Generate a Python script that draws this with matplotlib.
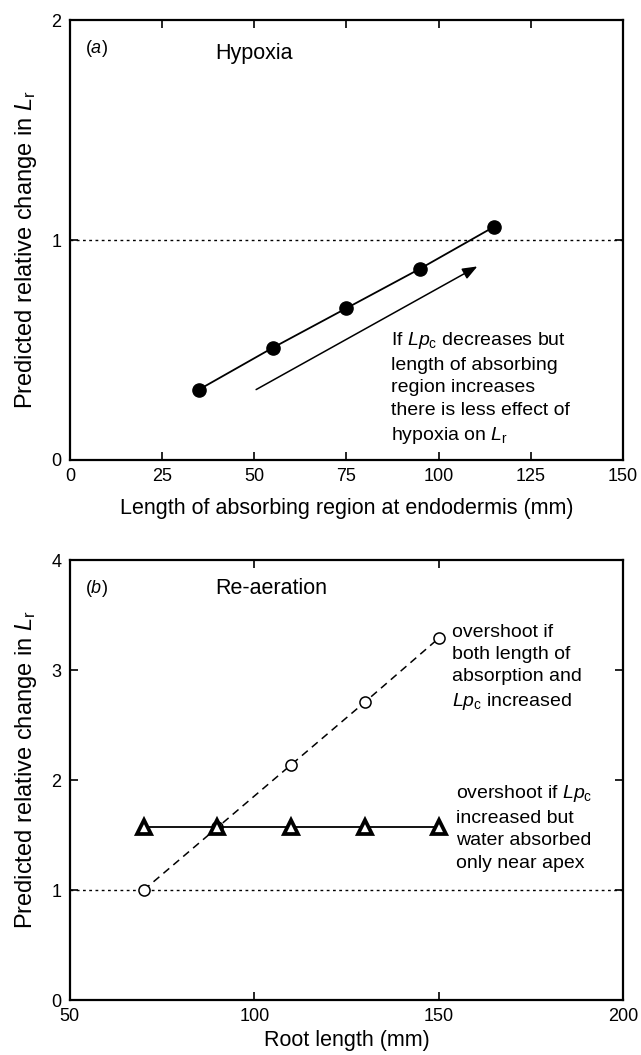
import numpy as np
import matplotlib
matplotlib.use("Agg")
import matplotlib.pyplot as plt

# -- fonts -- #
plt.rcParams['font.family'] = ['Liberation Sans', 'DejaVu Sans']
plt.rcParams['mathtext.fontset'] = 'custom'
plt.rcParams['mathtext.rm'] = 'Liberation Sans'
plt.rcParams['mathtext.it'] = 'Liberation Sans:italic'

# panel (a): hypoxia
absorb_len = [35, 55, 75, 95, 115]
hypoxia_change = [0.32, 0.51, 0.69, 0.87, 1.06]
arrow_start = (50.5, 0.32)
arrow_end = (110.5, 0.88)

# panel (b): re-aeration
root_len = [70, 90, 110, 130, 150]
both_change = [1.0, 1.57, 2.14, 2.71, 3.29]
apex_change = [1.57, 1.57, 1.57, 1.57, 1.57]

ylab = 'Predicted relative change in $\\mathit{L}_\\mathrm{r}$'

fig = plt.figure(figsize=(6.41, 10.55), dpi=100)
ax1 = fig.add_axes([0.109, 0.564, 0.863, 0.417])
ax2 = fig.add_axes([0.109, 0.052, 0.863, 0.417])

for ax in (ax1, ax2):
    ax.tick_params(direction='in', top=True, right=True, length=6, width=1.2,
                   labelsize=13, pad=6)
    for s in ax.spines.values():
        s.set_linewidth(1.6)
    ax.axhline(1, color='black', lw=1, ls=(0, (2, 2.5)), zorder=1)

# top plot
ax1.plot(absorb_len, hypoxia_change, color='black', lw=1.3, marker='o', ms=9.5)
ax1.annotate('', xy=arrow_end, xytext=arrow_start,
             arrowprops=dict(arrowstyle='-|>,head_length=0.9,head_width=0.35',
                             color='black', lw=1.1, shrinkA=0, shrinkB=0))
ax1.set_xlim(0, 150)
ax1.set_ylim(0, 2)
ax1.set_xticks([0, 25, 50, 75, 100, 125, 150])
ax1.set_yticks([0, 1, 2])
ax1.set_xlabel('Length of absorbing region at endodermis (mm)', fontsize=15.5, labelpad=9)
ax1.set_ylabel(ylab, fontsize=17, labelpad=9)
ax1.yaxis.label.set_y(0.477)
ax1.text(4, 1.87, '($\\mathit{a}$)', fontsize=13, va='center')
ax1.text(39.5, 1.85, 'Hypoxia', fontsize=15.5, va='center')
ax1.text(87, 0.59, 'If $\\mathit{Lp}_\\mathrm{c}$ decreases but\nlength of absorbing\n'
         'region increases\nthere is less effect of\nhypoxia on $\\mathit{L}_\\mathrm{r}$',
         fontsize=14, va='top', linespacing=1.42)

# bottom plot
ax2.plot(root_len, apex_change, color='black', lw=1.3, marker='^', ms=9.5,
         mfc='white', mec='black', mew=2.7, zorder=3)
ax2.plot(root_len, both_change, color='black', lw=1.1, ls=(0, (5, 3.5)),
         marker='o', ms=8, mfc='white', mec='black', mew=1.1, zorder=2)
ax2.set_xlim(50, 200)
ax2.set_ylim(0, 4)
ax2.set_xticks([50, 100, 150, 200])
ax2.set_yticks([0, 1, 2, 3, 4])
ax2.set_xlabel('Root length (mm)', fontsize=15.5, labelpad=3)
ax2.set_ylabel(ylab, fontsize=17, labelpad=9)
ax2.yaxis.label.set_y(0.523)
ax2.text(54, 3.74, '($\\mathit{b}$)', fontsize=13, va='center')
ax2.text(89.5, 3.74, 'Re-aeration', fontsize=15.5, va='center')
ax2.text(153.7, 3.42, 'overshoot if\nboth length of\nabsorption and\n$\\mathit{Lp}_\\mathrm{c}$ increased',
         fontsize=14, va='top', linespacing=1.4)
ax2.text(154.8, 1.97, 'overshoot if $\\mathit{Lp}_\\mathrm{c}$\nincreased but\nwater absorbed\nonly near apex',
         fontsize=14, va='top', linespacing=1.42)

plt.savefig('out.png', dpi=100)
plt.close()
